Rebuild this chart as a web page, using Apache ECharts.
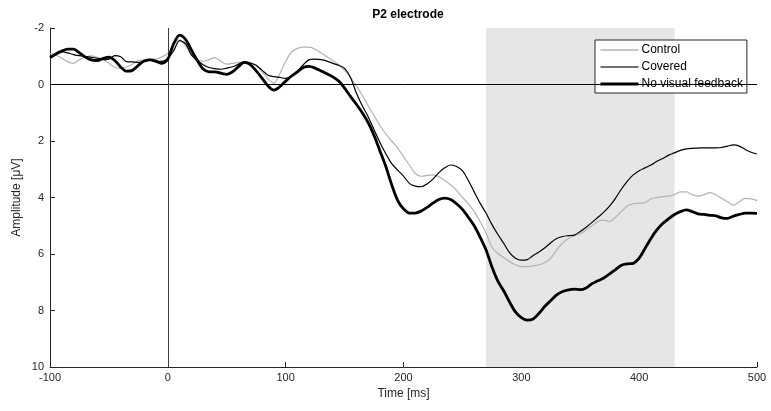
<!DOCTYPE html>
<html>
<head>
<meta charset="utf-8">
<script src="https://cdn.jsdelivr.net/npm/echarts@6/dist/echarts.min.js"></script>
<style>
html, body { margin: 0; padding: 0; background: #fff; }
#main { width: 771px; height: 411px; }
</style>
</head>
<body>
<div id="main"></div>
<script>
// time axis, -100 .. 500 ms in 5 ms steps
var times = [];
for (var t = -100; t <= 500; t += 5) times.push(t);

var control = [
  -1.1, -1.05, -0.93, -0.8, -0.75, -0.88, -0.97, -1.01, -0.96, -0.9,
  -0.75, -0.6, -0.57, -0.62, -0.72, -0.85, -0.87, -0.9, -0.9, -0.98,
  -1.1, -1.42, -1.58, -1.38, -1.05, -0.88, -0.82, -0.88, -0.95, -0.82,
  -0.72, -0.75, -0.78, -0.8, -0.78, -0.66, -0.45, -0.2, -0.05, -0.38,
  -0.82, -1.15, -1.28, -1.32, -1.32, -1.25, -1.12, -0.98, -0.85, -0.7,
  -0.5, -0.25, 0.05, 0.38, 0.75, 1.1, 1.45, 1.75, 2.0, 2.25,
  2.55, 2.85, 3.15, 3.25, 3.22, 3.2, 3.26, 3.4, 3.55, 3.75,
  4.0, 4.22, 4.5, 4.85, 5.25, 5.75, 5.98, 6.12, 6.27, 6.38,
  6.45, 6.45, 6.42, 6.38, 6.3, 6.15, 5.85, 5.62, 5.45, 5.35,
  5.28, 5.15, 5.0, 4.85, 4.8, 4.85, 4.7, 4.5, 4.3, 4.22,
  4.2, 4.18, 4.05, 4.0, 3.97, 3.95, 3.9, 3.8, 3.8, 3.9,
  3.95, 3.9, 3.83, 3.9, 4.03, 4.15, 4.27, 4.15, 4.03, 4.05,
  4.11
];

var covered = [
  -0.95, -1.1, -1.16, -1.12, -1.06, -1.02, -1.0, -0.96, -0.93, -0.88,
  -0.9, -1.02, -0.98, -0.81, -0.8, -0.78, -0.82, -0.86, -0.82, -0.82,
  -0.92, -1.2, -1.55, -1.45, -1.05, -0.85, -0.7, -0.6, -0.56, -0.54,
  -0.58, -0.63, -0.72, -0.8, -0.76, -0.68, -0.5, -0.33, -0.28, -0.25,
  -0.22, -0.3, -0.48, -0.7, -0.88, -0.9, -0.88, -0.83, -0.75, -0.68,
  -0.57, -0.25, 0.3, 0.75, 1.14, 1.6, 2.05, 2.45, 2.8, 3.03,
  3.24, 3.5, 3.6, 3.62, 3.52, 3.35, 3.12, 2.95, 2.85, 2.9,
  3.05, 3.4, 3.8, 4.2, 4.55, 4.95, 5.3, 5.62, 5.95, 6.15,
  6.22, 6.2, 6.05, 5.93, 5.78, 5.6, 5.45, 5.38, 5.35, 5.33,
  5.2, 5.05, 4.88, 4.7, 4.52, 4.3, 4.02, 3.7, 3.42, 3.2,
  3.05, 2.95, 2.85, 2.72, 2.62, 2.5, 2.42, 2.33, 2.28, 2.26,
  2.25, 2.24, 2.24, 2.24, 2.23, 2.18, 2.14, 2.18, 2.3, 2.4,
  2.46
];

var noFeedback = [
  -0.95, -1.08, -1.18, -1.25, -1.25, -1.12, -0.97, -0.87, -0.85, -0.92,
  -0.97, -0.85, -0.62, -0.47, -0.5, -0.68, -0.83, -0.87, -0.82, -0.75,
  -0.9, -1.45, -1.75, -1.6, -1.22, -0.85, -0.55, -0.45, -0.45, -0.4,
  -0.36, -0.45, -0.63, -0.78, -0.7, -0.48, -0.22, 0.05, 0.2, 0.08,
  -0.12, -0.3, -0.45, -0.6, -0.64, -0.58, -0.48, -0.38, -0.27, -0.12,
  0.13, 0.42, 0.7, 1.0, 1.35, 1.8, 2.35, 2.9, 3.55, 4.1,
  4.4, 4.55, 4.55, 4.48, 4.35, 4.2, 4.07, 4.02, 4.07, 4.22,
  4.42, 4.7, 5.0, 5.4, 5.85, 6.45, 6.95, 7.3, 7.7, 8.05,
  8.25, 8.34, 8.3, 8.1, 7.85, 7.65, 7.45, 7.33, 7.27, 7.24,
  7.26, 7.2, 7.05, 6.95, 6.85, 6.7, 6.55, 6.4, 6.35, 6.33,
  6.15, 5.8, 5.45, 5.15, 4.92, 4.75, 4.6, 4.5, 4.44, 4.5,
  4.58, 4.6, 4.63, 4.65, 4.72, 4.74, 4.66, 4.6, 4.55, 4.55,
  4.56
];

var window_ms = [270, 430];
var xTicks = [-100, 500, 100];
var yTicks = [-2, 10, 2];

function pairs(vals) {
  return times.map(function (t, i) { return [t, vals[i]]; });
}

var axisCol = '#262626';
var font = 'Liberation Sans, Arial, sans-serif';

var chart = echarts.init(document.getElementById('main'));
chart.setOption({
  animation: false,
  backgroundColor: '#fff',
  title: {
    text: 'P2 electrode',
    left: 403, textAlign: 'center', top: 4,
    textStyle: { fontFamily: font, fontSize: 12, fontWeight: 'bold', color: '#000' }
  },
  legend: {
    orient: 'vertical',
    left: 595, top: 40,
    backgroundColor: '#fff',
    borderColor: '#262626', borderWidth: 1, borderRadius: 0,
    padding: [4, 4, 3, 4],
    itemGap: 5,
    itemWidth: 38, itemHeight: 14,
    itemStyle: { opacity: 0 },
    textStyle: { fontFamily: font, fontSize: 12, color: '#000', padding: [0, 0, 0, -2] },
    data: [
      { name: 'Control', lineStyle: { width: 1.5 } },
      { name: 'Covered', lineStyle: { width: 1.5, color: '#404040' } },
      { name: 'No visual feedback', lineStyle: { width: 3 } }
    ]
  },
  grid: { left: 50, right: 14, top: 28, bottom: 44 },
  xAxis: {
    type: 'value',
    min: xTicks[0], max: xTicks[1], interval: xTicks[2],
    name: 'Time [ms]', nameLocation: 'middle', nameGap: 20,
    nameTextStyle: { fontFamily: font, fontSize: 12, color: axisCol },
    axisLine: { onZero: false, lineStyle: { color: axisCol, width: 1 } },
    axisTick: { inside: true, length: 5, lineStyle: { color: axisCol } },
    axisLabel: { fontFamily: font, fontSize: 11, color: axisCol, margin: 5 },
    splitLine: { show: false }
  },
  yAxis: {
    type: 'value',
    inverse: true,
    min: yTicks[0], max: yTicks[1], interval: yTicks[2],
    name: 'Amplitude [μV]', nameLocation: 'middle', nameGap: 27,
    nameMoveOverlap: false,
    nameTextStyle: { fontFamily: font, fontSize: 12, color: axisCol },
    axisLine: { show: true, onZero: false, lineStyle: { color: axisCol, width: 1 } },
    axisTick: { show: true, inside: true, length: 5, lineStyle: { color: axisCol } },
    axisLabel: { fontFamily: font, fontSize: 11, color: axisCol, margin: 6 },
    splitLine: { show: false }
  },
  series: [
    {
      name: 'shade', type: 'line', data: [], z: 1, silent: true,
      markArea: {
        silent: true,
        itemStyle: { color: '#e6e6e6' },
        data: [[{ xAxis: window_ms[0] }, { xAxis: window_ms[1] }]]
      },
      markLine: {
        silent: true, symbol: 'none', label: { show: false },
        data: [
          { yAxis: 0, lineStyle: { color: '#000', width: 1, type: 'solid' } },
          { xAxis: 0, lineStyle: { color: '#3c3c3c', width: 1, type: 'solid' } }
        ]
      }
    },
    {
      name: 'Control', type: 'line', data: pairs(control), z: 3,
      symbol: 'none', smooth: 0.3,
      itemStyle: { color: '#b3b3b3' },
      lineStyle: { color: '#b3b3b3', width: 1.2 }
    },
    {
      name: 'Covered', type: 'line', data: pairs(covered), z: 4,
      symbol: 'none', smooth: 0.3,
      itemStyle: { color: '#000' },
      lineStyle: { color: '#000', width: 1.2 }
    },
    {
      name: 'No visual feedback', type: 'line', data: pairs(noFeedback), z: 5,
      symbol: 'none', smooth: 0.3,
      itemStyle: { color: '#000' },
      lineStyle: { color: '#000', width: 2.8 }
    }
  ]
});
</script>
</body>
</html>
